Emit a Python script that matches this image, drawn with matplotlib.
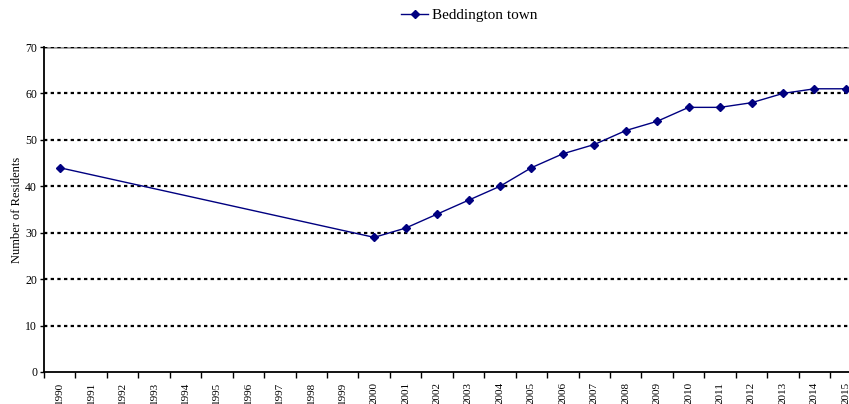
import numpy as np
import matplotlib.pyplot as plt

years = [str(y) for y in range(1990, 2016)]
# residents per year; only 1990 and 2000 onwards were recorded
residents = [44, None, None, None, None, None, None, None, None, None,
             29, 31, 34, 37, 40, 44, 47, 49, 52, 54, 57, 57, 58, 60, 61, 61]

plt.rcParams['font.family'] = ['Liberation Serif', 'DejaVu Serif']

fig = plt.figure(figsize=(8.49, 4.04), dpi=100)
ax = fig.add_axes([44 / 849, 32 / 404, 805 / 849, 325 / 404])

x = np.arange(len(years))
vals = np.array([np.nan if v is None else v for v in residents], dtype=float)
mask = ~np.isnan(vals)
ax.plot(x[mask], vals[mask], color='#000080', lw=1.0, marker='D', ms=4.5,
        label='Beddington town', zorder=3, clip_on=False)

ax.set_xlim(-0.5, 25.1)
ax.set_ylim(0, 70)
ax.set_yticks(range(0, 71, 10))
ax.set_xticks(x)
ax.set_xticklabels(years, rotation=90, fontsize=8, va='top')
ax.set_xticks(np.arange(-0.5, 25, 1), minor=True)
ax.tick_params(axis='x', which='major', length=0, pad=7)
ax.tick_params(axis='x', which='minor', length=4, width=1, direction='out')
ax.tick_params(axis='y', length=3, width=1, labelsize=8.5, pad=2)

for y in range(10, 71, 10):
    ax.axhline(y, color='black', lw=1.6, ls=(0, (1.5, 1.5)), zorder=1)

for s in ['top', 'right']:
    ax.spines[s].set_visible(False)
ax.axhline(70, color='#999999', lw=2.6, zorder=0.5)
ax.spines['left'].set_linewidth(1.3)
ax.spines['bottom'].set_linewidth(1.3)

ax.set_ylabel('Number of Residents', fontsize=9, labelpad=1.5)

fig.legend(loc='center', bbox_to_anchor=(469 / 849, 1 - 15 / 404),
           frameon=False, fontsize=11, handlelength=1.8, handletextpad=0.2)

fig.savefig('out.png', dpi=100)
